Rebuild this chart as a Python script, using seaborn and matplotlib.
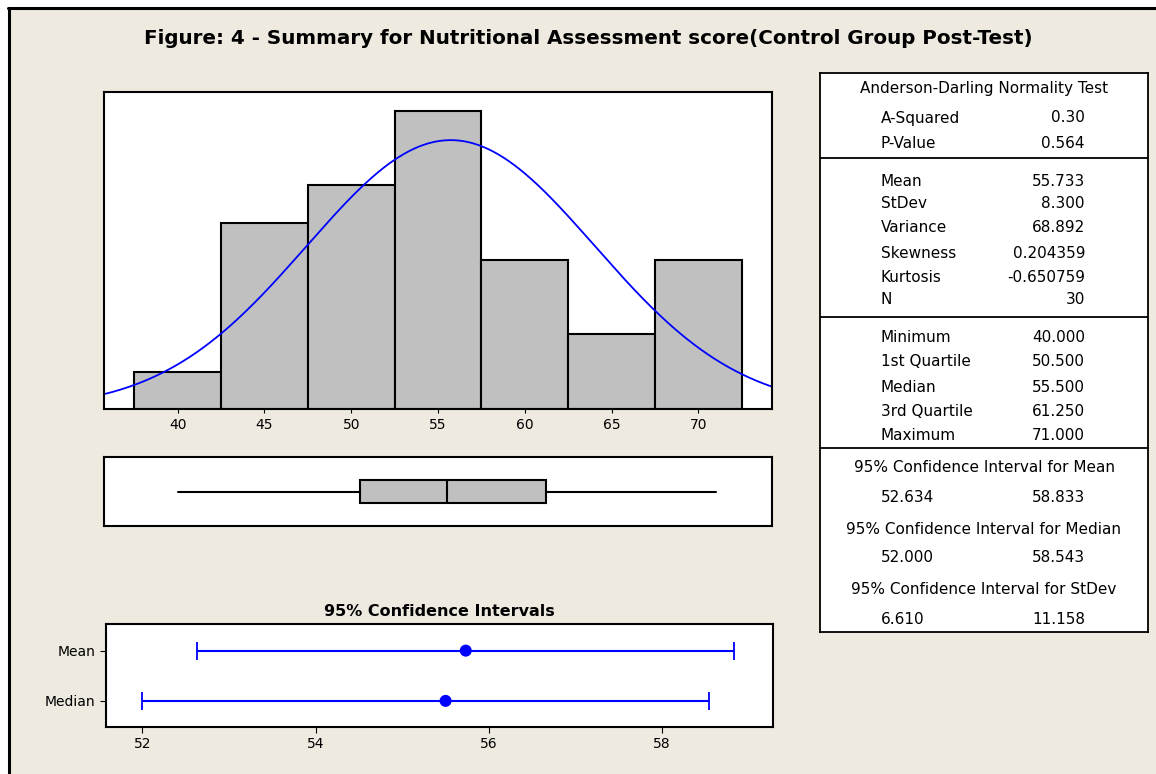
import numpy as np
import matplotlib
matplotlib.use("Agg")
import matplotlib.pyplot as plt
import seaborn as sns
from matplotlib.patches import Rectangle
from matplotlib.lines import Line2D

# histogram of the 30 scores (bin width 5)
bin_centers = [40, 45, 50, 55, 60, 65, 70]
counts = [1, 5, 6, 8, 4, 2, 4]
bin_edges = [37.5, 42.5, 47.5, 52.5, 57.5, 62.5, 67.5, 72.5]

# summary statistics
mean_val = 55.733
sd_val = 8.300
n_obs = 30
five_num = {"whislo": 40.0, "q1": 50.5, "med": 55.5, "q3": 61.25, "whishi": 71.0}

# confidence intervals
ci_labels = ["Mean", "Median"]
ci_center = [55.733, 55.5]
ci_low = [52.634, 52.000]
ci_high = [58.833, 58.543]

stat_rows = [
    ("A-Squared", "0.30"), ("P-Value", "0.564"),
    ("Mean", "55.733"), ("StDev", "8.300"), ("Variance", "68.892"),
    ("Skewness", "0.204359"), ("Kurtosis", "-0.650759"), ("N", "30"),
    ("Minimum", "40.000"), ("1st Quartile", "50.500"), ("Median", "55.500"),
    ("3rd Quartile", "61.250"), ("Maximum", "71.000"),
]
ci_rows = [
    ("95% Confidence Interval for Mean", "52.634", "58.833"),
    ("95% Confidence Interval for Median", "52.000", "58.543"),
    ("95% Confidence Interval for StDev", "6.610", "11.158"),
]

sns.set_style("white")
plt.rcParams['font.family'] = ['DejaVu Sans']
plt.rcParams.update({"text.color": "black", "xtick.color": "black",
                     "ytick.color": "black", "axes.labelcolor": "black"})
bg = "#EEEAE0"
W, H = 1156, 774

fig = plt.figure(figsize=(11.56, 7.74), dpi=100, facecolor="white")
fig.patches.append(Rectangle((9 / W, 0), 1, 1 - 9 / H, transform=fig.transFigure,
                             facecolor=bg, edgecolor="none", zorder=-10))
fig.lines.append(Line2D([9 / W, 9 / W], [0, 1 - 8 / H], transform=fig.transFigure,
                        color="black", lw=2.2))
fig.lines.append(Line2D([8 / W, 1], [1 - 8 / H, 1 - 8 / H], transform=fig.transFigure,
                        color="black", lw=2.2))


def px_axes(x0, y0, x1, y1):
    return fig.add_axes([x0 / W, 1 - y1 / H, (x1 - x0) / W, (y1 - y0) / H])


fig.text(588 / W, 1 - 38 / H,
         "Figure: 4 - Summary for Nutritional Assessment score(Control Group Post-Test)",
         ha="center", va="center", fontsize=14.3, fontweight="bold")

# histogram + normal curve
ax = px_axes(104, 92, 772, 409)
sns.histplot(x=bin_centers, weights=counts, bins=bin_edges, ax=ax,
             color="#C0C0C0", edgecolor="black", linewidth=1.5, alpha=1)
xs = np.linspace(35.75, 74.25, 400)
ys = n_obs * 5 * np.exp(-0.5 * ((xs - mean_val) / sd_val) ** 2) / (sd_val * np.sqrt(2 * np.pi))
sns.lineplot(x=xs, y=ys, ax=ax, color="#0000FF", lw=1.3)
ax.set_xlim(35.75, 74.25)
ax.set_ylim(0, 8.5)
ax.set_xticks(bin_centers)
ax.set_yticks([])
ax.set_ylabel("")
ax.tick_params(axis="x", bottom=True, length=3, labelsize=10)

# boxplot
axb = px_axes(104, 457, 772, 526)
axb.bxp([five_num], positions=[0], vert=False, widths=0.32, showcaps=False,
        showfliers=False, patch_artist=True,
        boxprops=dict(facecolor="#C0C0C0", edgecolor="black", lw=1.5),
        whiskerprops=dict(color="black", lw=1.5),
        medianprops=dict(color="black", lw=1.5))
axb.set_xlim(35.75, 74.25)
axb.set_ylim(-0.5, 0.5)
axb.set_xticks([])
axb.set_yticks([])

# confidence intervals
axc = px_axes(106, 624, 773, 727)
ypos = np.arange(len(ci_labels))
axc.errorbar(ci_center, ypos,
             xerr=[np.array(ci_center) - np.array(ci_low), np.array(ci_high) - np.array(ci_center)],
             fmt="none", ecolor="#0000FF", elinewidth=1.5, capsize=6.5, capthick=1.3)
sns.scatterplot(x=ci_center, y=ypos, ax=axc, color="#0000FF", s=75, edgecolor="none", zorder=5)
axc.set_xlim(51.58, 59.28)
axc.set_ylim(1.52, -0.53)
axc.set_xticks([52, 54, 56, 58])
axc.set_yticks(ypos)
axc.set_yticklabels(ci_labels)
axc.tick_params(axis="both", bottom=True, left=True, length=4, labelsize=10)
axc.set_title("95% Confidence Intervals", fontsize=11.5, fontweight="bold", pad=6)

for a in (ax, axb, axc):
    a.set_facecolor("white")
    for s in a.spines.values():
        s.set_visible(True)
        s.set_color("black")
        s.set_linewidth(1.5)

# statistics table
axt = px_axes(820, 73, 1148, 632)
axt.set_xlim(820, 1148)
axt.set_ylim(632, 73)
axt.set_xticks([])
axt.set_yticks([])
axt.set_facecolor("white")
for s in axt.spines.values():
    s.set_color("black")
    s.set_linewidth(1.3)
for yy in (158, 317, 448):
    axt.axhline(yy, color="black", lw=1.3)

fs = 11
axt.text(984, 88, "Anderson-Darling Normality Test", ha="center", va="center", fontsize=fs)
row_y = [118, 144, 181, 204, 228, 253, 278, 300, 338, 362, 387, 412, 436]
for (lab, val), yy in zip(stat_rows, row_y):
    axt.text(881, yy, lab, ha="left", va="center", fontsize=fs)
    axt.text(1085, yy, val, ha="right", va="center", fontsize=fs)
ci_y = [(468, 498), (529, 558), (589, 619)]
for (head, lo, hi), (yh, yv) in zip(ci_rows, ci_y):
    axt.text(984, yh, head, ha="center", va="center", fontsize=fs)
    axt.text(881, yv, lo, ha="left", va="center", fontsize=fs)
    axt.text(1085, yv, hi, ha="right", va="center", fontsize=fs)

fig.savefig("out.png", dpi=100, facecolor=fig.get_facecolor())
